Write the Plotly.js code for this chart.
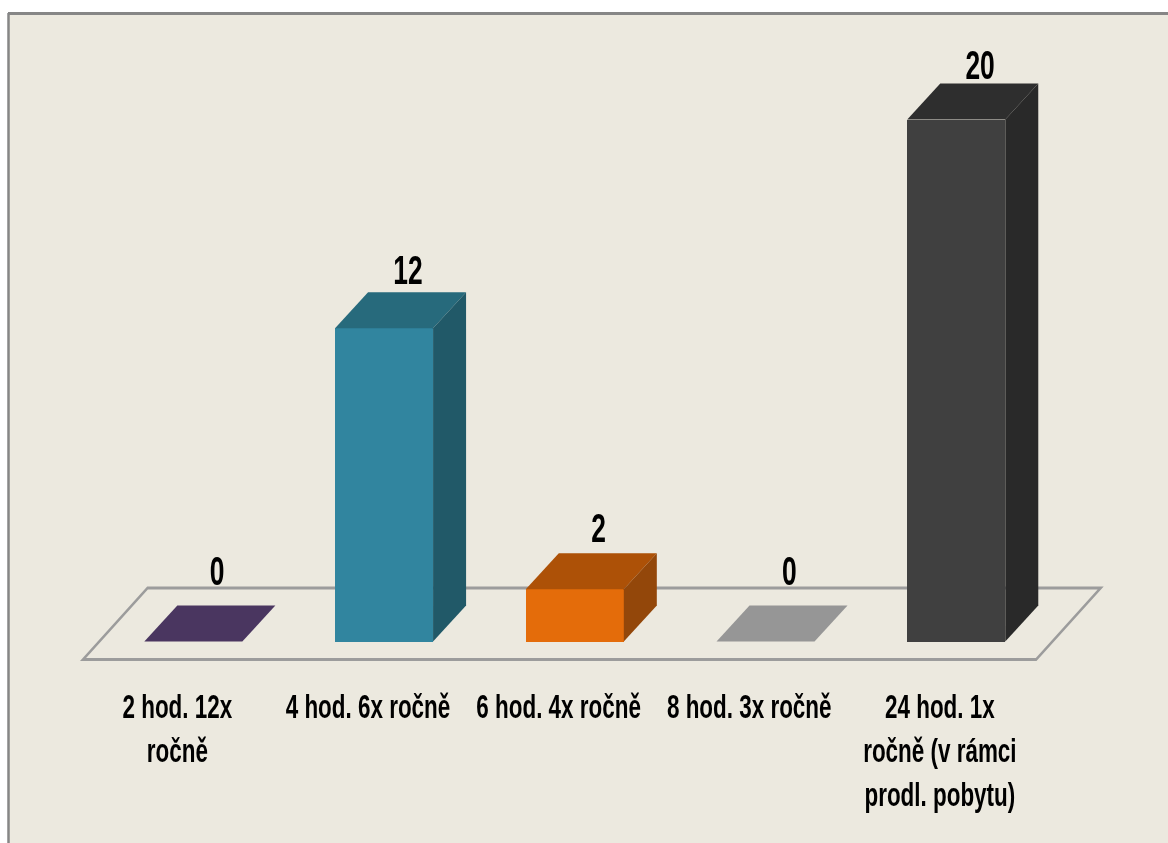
<!DOCTYPE html>
<html lang="cs">
<head>
<meta charset="utf-8">
<script src="https://cdn.plot.ly/plotly-3.0.1.min.js"></script>
<style>
html,body{margin:0;padding:0;background:#fff;overflow:hidden;width:1168px;height:843px}
#clip{width:1168px;height:843px;overflow:hidden;position:relative;filter:blur(0.5px)}
#chart{position:absolute;left:0;top:0;transform-origin:0 0}
</style>
</head>
<body>
<div id="clip"><div id="chart"></div></div>
<script>
// data
const categories = ["2 hod. 12x<br>ročně", "4 hod. 6x ročně", "6 hod. 4x ročně", "8 hod. 3x ročně", "24 hod. 1x<br>ročně (v rámci<br>prodl. pobytu)"];
const values = [0, 12, 2, 0, 20];
const labelHeights = [2.55, 14.09, 4.2, 2.55, 21.94];
const frontColors = ["#4A3660", "#31859F", "#E46C0A", "#969696", "#404040"];
const topColors   = ["#4A3660", "#276A7C", "#AD5107", "#969696", "#2E2E2E"];
const sideColors  = ["#4A3660", "#215968", "#93470A", "#969696", "#292929"];

// geometry of the reference: the picture is squeezed horizontally
const W = 1168, H = 843, SQUEEZE = 0.66;
const STEP = 190.7, X0 = 193.3, UNIT = 26.1, BASE = 641.5;
const BAR = 98 / STEP, DX = 33 / STEP, DY = 36 / UNIT;
const FLOOR_L = (83 - X0) / STEP, FLOOR_R = (1036 - X0) / STEP;
const FLOOR_F = (BASE - 659.5) / UNIT, FLOOR_B = (BASE - 588) / UNIT, FLOOR_D = 64.5 / STEP;
const GRAY = "#9C9C9C", FRAME = "#868686", BG = "#ECE9DF";

const idx = values.map((_, i) => i);
const slot = (FLOOR_R - FLOOR_L) / categories.length;

const traces = [{
  type: "bar", x: idx, y: values, width: BAR,
  marker: {color: frontColors, line: {width: 0}}, hoverinfo: "skip"
}];
values.forEach((v, i) => {
  const l = i - BAR / 2, r = i + BAR / 2;
  traces.push({
    type: "scatter", mode: "lines", fill: "toself", fillcolor: topColors[i],
    line: {width: 0}, hoverinfo: "skip",
    x: [l, r, r + DX, l + DX, l], y: [v, v, v + DY, v + DY, v]
  });
  if (v > 0) traces.push({
    type: "scatter", mode: "lines", fill: "toself", fillcolor: sideColors[i],
    line: {width: 0}, hoverinfo: "skip",
    x: [r, r + DX, r + DX, r, r], y: [0, DY, v + DY, v, 0]
  });
});
traces.push({
  type: "scatter", mode: "text", x: idx.map(i => i + 0.125), y: labelHeights,
  text: values.map(String), textposition: "middle center",
  textfont: {family: "Liberation Sans, Arial, sans-serif", size: 40, color: "#000", weight: 700},
  hoverinfo: "skip"
});

const layout = {
  width: W / SQUEEZE, height: H,
  margin: {l: 0, r: 0, t: 0, b: 0},
  paper_bgcolor: "#FFFFFF", plot_bgcolor: "rgba(0,0,0,0)",
  showlegend: false, bargap: 0,
  xaxis: {
    range: [-X0 / STEP, (W - X0) / STEP], fixedrange: true,
    anchor: "free", position: (H - 683) / H,
    tickmode: "array",
    tickvals: idx.map(i => FLOOR_L + slot * (i + 0.5) - 1 / STEP),
    ticktext: categories, ticklen: 0, showline: false, showgrid: false, zeroline: false,
    tickfont: {family: "Liberation Sans, Arial, sans-serif", size: 34, color: "#000", weight: 700},
    tickangle: 0
  },
  yaxis: {
    range: [(BASE - H) / UNIT, BASE / UNIT], fixedrange: true,
    visible: false
  },
  shapes: [
    {type: "rect", xref: "paper", yref: "paper", x0: 9 / W, x1: 1, y0: 0, y1: 1 - 14 / H,
     fillcolor: BG, line: {width: 0}, layer: "below"},
    {type: "line", xref: "paper", yref: "paper", x0: 8 / W, x1: 1, y0: 1 - 13.5 / H, y1: 1 - 13.5 / H,
     line: {color: FRAME, width: 3}, layer: "below"},
    {type: "line", xref: "paper", yref: "paper", x0: 8.5 / W, x1: 8.5 / W, y0: 0, y1: 1 - 13 / H,
     line: {color: FRAME, width: 2.5 / SQUEEZE}, layer: "below"},
    {type: "path", xref: "x", yref: "y", layer: "below",
     path: `M${FLOOR_L},${FLOOR_F} L${FLOOR_R},${FLOOR_F} L${FLOOR_R + FLOOR_D},${FLOOR_B} L${FLOOR_L + FLOOR_D},${FLOOR_B} Z`,
     line: {color: GRAY, width: 3}, fillcolor: "rgba(0,0,0,0)"}
  ]
};

const el = document.getElementById("chart");
el.style.transform = `scaleX(${SQUEEZE})`;
Plotly.newPlot(el, traces, layout, {displayModeBar: false, staticPlot: true});
</script>
</body>
</html>
